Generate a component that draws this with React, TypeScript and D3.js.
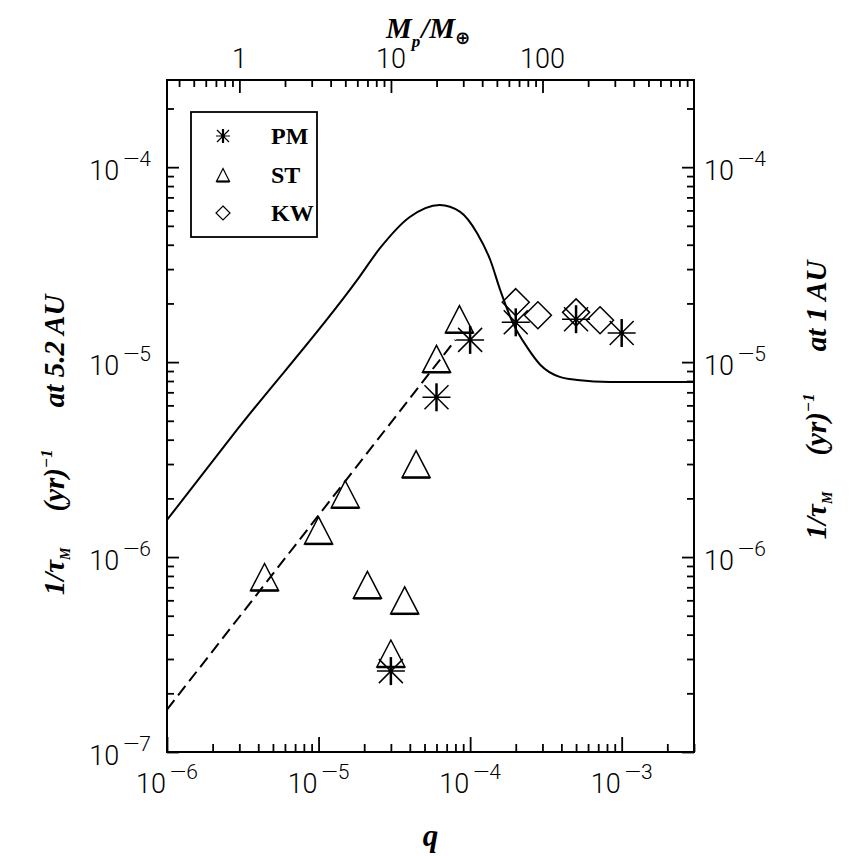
import { useEffect, useRef } from 'react';
import * as d3 from 'd3';

// solid curve (type I rate at 5.2 AU)
const curveQ = [1e-6, 2.9e-6, 1.8e-5, 2.55e-5, 4.0e-5, 6.3e-5, 8.6e-5, 1.11e-4, 1.36e-4, 1.58e-4, 1.92e-4, 2.38e-4, 2.9e-4, 3.9e-4, 5.1e-4, 8.4e-4, 3e-3];
const curveRate = [1.55e-6, 4.5e-6, 2.64e-5, 3.85e-5, 5.55e-5, 6.4e-5, 5.9e-5, 4.6e-5, 3.33e-5, 2.34e-5, 1.58e-5, 1.19e-5, 9.7e-6, 8.4e-6, 8.1e-6, 7.9e-6, 7.9e-6];

// dashed line
const dashQ = [1e-6, 8e-5];
const dashRate = [1.65e-7, 1.3e-5];

// PM (asterisks)
const pmQ = [3e-5, 6e-5, 1e-4, 2e-4, 5e-4, 1e-3];
const pmRate = [2.6e-7, 6.6e-6, 1.3e-5, 1.6e-5, 1.66e-5, 1.41e-5];

// ST (triangles)
const stQ = [4.4e-6, 1e-5, 1.5e-5, 2.1e-5, 3e-5, 3.7e-5, 4.4e-5, 6e-5, 8.5e-5];
const stRate = [7.9e-7, 1.37e-6, 2.1e-6, 7.2e-7, 3.2e-7, 6.0e-7, 3.0e-6, 1.04e-5, 1.66e-5];

// KW (diamonds)
const kwQ = [2e-4, 2.8e-4, 5e-4, 7.2e-4];
const kwRate = [2.03e-5, 1.74e-5, 1.8e-5, 1.64e-5];

const qMajor = [1e-6, 1e-5, 1e-4, 1e-3];
const rateMajorLeft = [1e-7, 1e-6, 1e-5, 1e-4];
const rateMajorRight = [1e-6, 1e-5, 1e-4];
const massMajor = [1, 10, 100];
const legendLabels = ['PM', 'ST', 'KW'];

const SUN_IN_EARTHS = 333000;

const App = () => {
    const svgRef = useRef<SVGSVGElement>(null);

    useEffect(() => {
        if (!svgRef.current) return;
        const svg = d3.select(svgRef.current);
        svg.selectAll('*').remove();

        const W = 858, H = 856;
        const box = { left: 167, right: 694, top: 80, bottom: 752 };

        svg.attr('width', W).attr('height', H);
        svg.append('rect').attr('width', W).attr('height', H).attr('fill', '#fff');

        const x = d3.scaleLog().domain([1e-6, 3e-3]).range([box.left, box.right]);
        const y = d3.scaleLog().domain([1e-7, 2.8e-4]).range([box.bottom, box.top]);
        const xMass = d3.scaleLog()
            .domain([1e-6 * SUN_IN_EARTHS, 3e-3 * SUN_IN_EARTHS])
            .range([box.left, box.right]);

        const tickFont = 'Roboto, "DejaVu Sans", sans-serif';
        const serif = '"Liberation Serif", "DejaVu Serif", serif';

        const isMajor = (t: number, majors: number[]) => majors.some(m => Math.abs(t - m) / m < 1e-6);
        const minors = (s: any, majors: number[]) => s.ticks().filter((t: number) => !isMajor(t, majors));

        const addTicks = (axis: any, transform: string) => {
            const g = svg.append('g').attr('transform', transform).call(axis);
            g.select('.domain').remove();
            g.selectAll('.tick text').remove();
            g.selectAll('.tick line').attr('stroke', '#000').attr('stroke-width', 1.8);
        };

        // bottom (q)
        addTicks(d3.axisBottom(x).tickValues(qMajor).tickSize(-15), `translate(0,${box.bottom})`);
        addTicks(d3.axisBottom(x).tickValues(minors(x, qMajor)).tickSize(-8), `translate(0,${box.bottom})`);
        // top (mass)
        addTicks(d3.axisTop(xMass).tickValues(massMajor).tickSize(-13), `translate(0,${box.top})`);
        addTicks(d3.axisTop(xMass).tickValues(minors(xMass, massMajor)).tickSize(-7), `translate(0,${box.top})`);
        // left / right
        addTicks(d3.axisLeft(y).tickValues(rateMajorLeft).tickSize(-12), `translate(${box.left},0)`);
        addTicks(d3.axisLeft(y).tickValues(minors(y, rateMajorLeft)).tickSize(-7), `translate(${box.left},0)`);
        addTicks(d3.axisRight(y).tickValues(rateMajorLeft).tickSize(-12), `translate(${box.right},0)`);
        addTicks(d3.axisRight(y).tickValues(minors(y, rateMajorLeft)).tickSize(-7), `translate(${box.right},0)`);

        // frame
        svg.append('rect')
            .attr('x', box.left).attr('y', box.top)
            .attr('width', box.right - box.left).attr('height', box.bottom - box.top)
            .attr('fill', 'none').attr('stroke', '#000').attr('stroke-width', 2);

        // power-of-ten labels
        const powLabel = (px: number, py: number, v: number, anchor: string) => {
            const t = svg.append('text')
                .attr('x', px).attr('y', py)
                .attr('text-anchor', anchor)
                .style('font-family', tickFont).style('font-weight', 300)
                .style('font-size', '27px');
            t.append('tspan').text('10');
            t.append('tspan').attr('dx', 4).attr('dy', -14)
                .style('font-size', '21px')
                .text(`—${-Math.round(Math.log10(v))}`);
        };
        qMajor.forEach(v => powLabel(x(v), 793, v, 'middle'));
        rateMajorLeft.forEach(v => powLabel(151, y(v) + 13, v, 'end'));
        rateMajorRight.forEach(v => powLabel(704, y(v) + 13, v, 'start'));

        massMajor.forEach(m => {
            svg.append('text')
                .attr('x', xMass(m)).attr('y', 68)
                .attr('text-anchor', 'middle')
                .style('font-family', tickFont).style('font-weight', 300)
                .style('font-size', '27px')
                .text(String(m));
        });

        // curves
        const line = d3.line<[number, number]>()
            .x(d => x(d[0]))
            .y(d => y(d[1]))
            .curve(d3.curveMonotoneX);

        svg.append('path')
            .datum(curveQ.map((q, i) => [q, curveRate[i]] as [number, number]))
            .attr('d', line)
            .attr('fill', 'none').attr('stroke', '#000').attr('stroke-width', 2);

        svg.append('path')
            .datum(dashQ.map((q, i) => [q, dashRate[i]] as [number, number]))
            .attr('d', d3.line<[number, number]>().x(d => x(d[0])).y(d => y(d[1])))
            .attr('fill', 'none').attr('stroke', '#000').attr('stroke-width', 2)
            .attr('stroke-dasharray', '12,6');

        // markers
        const asterisk = (cx: number, cy: number, r: number, d: number, w: number) => {
            const g = svg.append('g').attr('transform', `translate(${cx},${cy})`);
            g.append('path')
                .attr('d', `M${-r},0H${r}M${-d},${-d}L${d},${d}M${-d},${d}L${d},${-d}`)
                .attr('stroke', '#000').attr('stroke-width', w);
            g.append('path')
                .attr('d', `M0,${-r}V${r}`)
                .attr('stroke', '#000').attr('stroke-width', w + 1);
            g.append('circle').attr('r', w + 0.8).attr('fill', '#000');
        };
        const triangle = (cx: number, cy: number, hw: number, hh: number, w: number) => {
            svg.append('path')
                .attr('d', `M${cx},${cy - hh}L${cx + hw},${cy + hh}H${cx - hw}Z`)
                .attr('fill', 'none').attr('stroke', '#000').attr('stroke-width', w);
            svg.append('path')
                .attr('d', `M${cx - hw},${cy + hh}H${cx + hw}`)
                .attr('stroke', '#000').attr('stroke-width', w + 1);
        };
        const diamond = (cx: number, cy: number, r: number, w: number) => {
            svg.append('path')
                .attr('d', `M${cx},${cy - r}L${cx + r},${cy}L${cx},${cy + r}L${cx - r},${cy}Z`)
                .attr('fill', 'none').attr('stroke', '#000').attr('stroke-width', w);
        };

        kwQ.forEach((q, i) => diamond(x(q), y(kwRate[i]), 13.5, 1.5));
        stQ.forEach((q, i) => triangle(x(q), y(stRate[i]), 14, 13.5, 1.5));
        pmQ.forEach((q, i) => asterisk(x(q), y(pmRate[i]), 14, 12, 1.5));

        // legend
        svg.append('rect')
            .attr('x', 191).attr('y', 112).attr('width', 126).attr('height', 125)
            .attr('fill', '#fff').attr('stroke', '#000').attr('stroke-width', 1.8);
        const rows = [136, 175, 213];
        asterisk(223, rows[0], 7, 6, 1.2);
        triangle(223, rows[1], 6.5, 6.5, 1.2);
        diamond(223, rows[2], 7, 1.2);
        legendLabels.forEach((lab, i) => {
            svg.append('text')
                .attr('x', 271).attr('y', rows[i] + 8)
                .style('font-family', serif).style('font-weight', 'bold')
                .style('font-size', '24px')
                .text(lab);
        });

        // axis titles
        svg.append('text')
            .attr('x', (box.left + box.right) / 2).attr('y', 846)
            .attr('text-anchor', 'middle')
            .style('font-family', serif).style('font-weight', 'bold').style('font-style', 'italic')
            .style('font-size', '31px')
            .text('q');

        const top = svg.append('text')
            .attr('x', 428).attr('y', 38)
            .attr('text-anchor', 'middle')
            .style('font-family', serif).style('font-weight', 'bold').style('font-style', 'italic')
            .style('font-size', '29px');
        top.append('tspan').text('M');
        top.append('tspan').attr('dy', 9).style('font-size', '17px').text('p');
        top.append('tspan').attr('dy', -9).attr('dx', 1).text('/');
        top.append('tspan').text('M');
        top.append('tspan').attr('dy', 6).style('font-size', '18px').style('font-style', 'normal')
            .style('font-family', '"DejaVu Sans", sans-serif').text('⊕');

        const rateTitle = (tx: number, ty: number, where: string) => {
            const t = svg.append('text')
                .attr('transform', `translate(${tx},${ty}) rotate(-90)`)
                .attr('text-anchor', 'middle')
                .style('font-family', serif).style('font-weight', 'bold').style('font-style', 'italic')
                .style('font-size', '29px');
            t.append('tspan').text('1/τ');
            t.append('tspan').attr('dy', 6).style('font-size', '14px').text('M');
            t.append('tspan').attr('dx', 36).attr('dy', -6).text('(yr)');
            t.append('tspan').attr('dy', -12).style('font-size', '17px').text('−1');
            t.append('tspan').attr('dx', 42).attr('dy', 12).text(where);
        };
        rateTitle(64, 445, 'at 5.2 AU');
        rateTitle(826, 400, 'at 1 AU');
    }, []);

    return (
        <svg ref={svgRef} style={{ position: 'absolute', left: 0, top: 0 }}></svg>
    );
};

export default App;
